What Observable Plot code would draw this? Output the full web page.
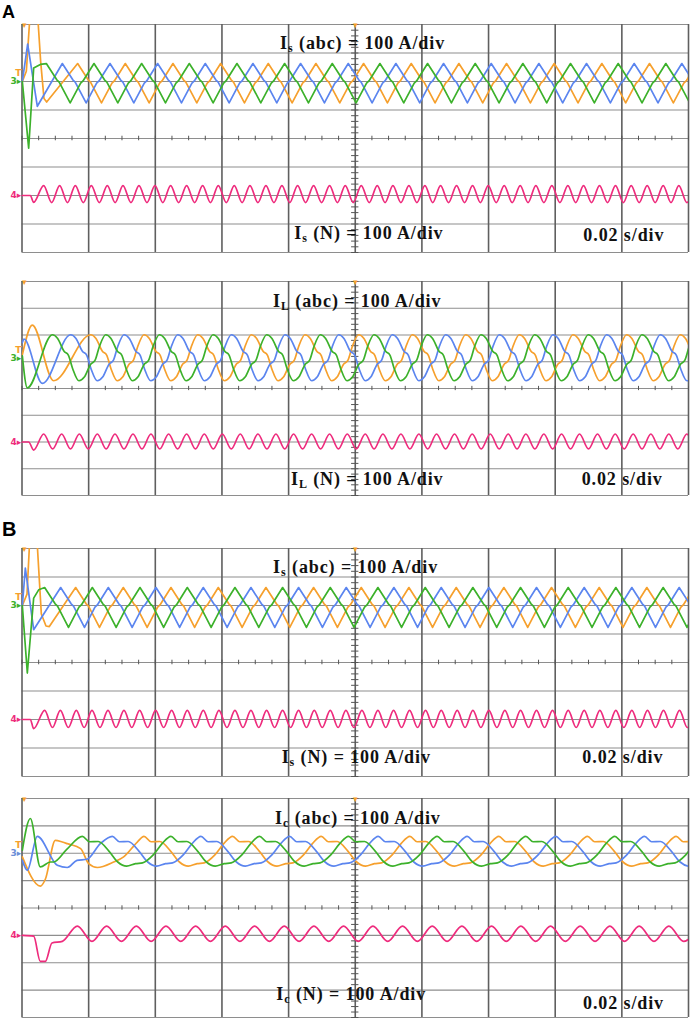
<!DOCTYPE html>
<html><head><meta charset="utf-8">
<script src="https://cdn.jsdelivr.net/npm/d3@7"></script>
<script src="https://cdn.jsdelivr.net/npm/@observablehq/plot@0.6"></script>
<style>
body{margin:0;background:#fff;}
#wrap{position:relative;width:692px;height:1020px;overflow:hidden;background:#fff;}
#wrap svg{position:absolute;left:0;background:transparent;}
.lbl{position:absolute;font-family:"Liberation Sans",Arial,sans-serif;font-weight:bold;line-height:1;color:#000;}
</style></head><body>
<div id="wrap">
<div class="lbl" style="left:2px;top:3px;font-size:18px">A</div>
<div class="lbl" style="left:2px;top:519px;font-size:20px">B</div>
</div>
<script>
// ---------------- DATA (time in ms, 0.02 s/div = 20 ms/div; current in A, 100 A/div) ----------------
const colors = {ch1: "#f6a02d", ch2: "#5b85ef", ch3: "#3cb12b", ch4: "#ee2c7d"};

// Panel A-top : Is (source current)
const isA_ch1_transient = [[0.1,0],[1.3,36],[2.5,250],[4.6,250],[5.6,70],[6.6,-60],[7.4,-72]];
const isA_ch2_transient = [[0.1,0],[1.7,131],[4.6,-87]];
const isA_ch3_transient = [[0.1,0],[2.0,-234],[3.5,47],[5.5,60]];
const isA_ch4_transient = [[0.1,0],[2.5,0],[3.5,-24]];
const isA_ch1_peaks = [16.7,31.0,45.3,59.6,73.9,88.2,102.5,116.8,131.1,145.4,159.7,174.0,188.3,202.6];
const isA_ch2_peaks = [12.1,26.4,40.7,55.0,69.3,83.6,97.9,112.2,126.5,140.8,155.1,169.4,183.7,198.0,212.3];
const isA_ch3_peaks = [7.3,21.6,35.9,50.2,64.5,78.8,93.1,107.4,121.7,136.0,150.3,164.6,178.9,193.2,207.5];
const isA_ch4_peaks = [6.5,11.3,16.0,20.8,25.6,30.3,35.1,39.9,44.6,49.4,54.2,58.9,63.7,68.4,73.2,78.0,82.7,87.5,92.3,97.0,101.8,106.6,111.3,116.1,120.9,125.6,130.4,135.2,139.9,144.7,149.5,154.2,159.0,163.8,168.5,173.3,178.1,182.8,187.6,192.4,197.1,201.9];
const isA_phaseCycle = [[0,63],[0.22,6],[0.27,-2],[0.5,-75],[0.72,-6],[0.77,2]];
const isA_neutralCycle = [[0,35],[0.5,-25]];

// Panel A-bottom : IL (load current)
const il_ch1_transient = [[0.1,11],[3.1,122],[9.5,-86]];
const il_ch2_transient = [[0.1,57],[0.6,70],[6.1,-96]];
const il_ch3_transient = [[0.1,7],[1.6,-113]];
const il_ch4_transient = [[0.1,0],[2.0,0],[3.5,-30]];
const il_ch1_peaks = [20.6,36.6,52.7,68.8,84.9,101.0,117.1,133.1,149.2,165.3,181.4,197.5,213.6];
const il_ch2_peaks = [14.6,30.6,46.7,62.8,78.9,95.0,111.1,127.1,143.2,159.3,175.4,191.5,207.6];
const il_ch3_peaks = [9.1,25.1,41.2,57.3,73.4,89.5,105.6,121.6,137.7,153.8,169.9,186.0,202.1];
const il_ch4_peaks = [6.5,11.9,17.2,22.6,27.9,33.3,38.7,44.0,49.4,54.7,60.1,65.5,70.8,76.2,81.5,86.9,92.3,97.6,103.0,108.3,113.7,119.1,124.4,129.8,135.1,140.5,145.9,151.2,156.6,161.9,167.3,172.7,178.0,183.4,188.7,194.1,199.5,204.8];
const il_phaseCycle = [[0,86],[0.1,72],[0.22,24],[0.3,10],[0.38,-40],[0.5,-86],[0.6,-72],[0.72,-24],[0.8,-10],[0.88,40]];
const il_neutralCycle = [[0,30],[0.5,-26]];

// Panel B-top : Is (source current)
const isB_ch1_transient = [[0.1,0],[1.5,40],[2.4,250],[4.4,250],[5.8,-30],[7.2,-72],[8.2,-74]];
const isB_ch2_transient = [[0.1,0],[1.0,131],[3.5,-85]];
const isB_ch3_transient = [[0.1,0],[1.6,-237],[3.5,26],[5.0,55]];
const isB_ch4_transient = [[0.1,0],[2.5,0],[3.5,-32]];
const isB_ch1_peaks = [16.1,30.4,44.7,58.9,73.2,87.5,101.8,116.1,130.3,144.6,158.9,173.2,187.5,201.7];
const isB_ch2_peaks = [11.6,25.9,40.2,54.4,68.7,83.0,97.3,111.6,125.8,140.1,154.4,168.7,183.0,197.2,211.5];
const isB_ch3_peaks = [6.8,21.1,35.4,49.6,63.9,78.2,92.5,106.8,121.0,135.3,149.6,163.9,178.2,192.4,206.7];
const isB_ch4_peaks = [6.8,11.5,16.3,21.0,25.8,30.6,35.3,40.1,44.9,49.6,54.4,59.1,63.9,68.7,73.4,78.2,83.0,87.7,92.5,97.2,102.0,106.8,111.5,116.3,121.1,125.8,130.6,135.3,140.1,144.9,149.6,154.4,159.2,163.9,168.7,173.4,178.2,183.0,187.7,192.5,197.3,202.0];
const isB_phaseCycle = [[0,63],[0.22,6],[0.27,-2],[0.5,-77],[0.72,-6],[0.77,2]];
const isB_neutralCycle = [[0,32],[0.5,-28]];

// Panel B-bottom : Ic (compensator current)
const ic_ch1_transient = [[0.1,-13],[5.5,-120],[7.0,-95],[10.0,47],[12.1,41],[13.6,35],[17.6,17],[20.0,-38],[22.6,-52],[27.5,-32],[30.5,-13],[34.6,41]];
const ic_ch2_transient = [[0.1,-26],[1.6,-62],[4.6,62],[10.6,-44],[13.6,-52],[16.5,-26],[19.5,-22],[23.5,35]];
const ic_ch3_transient = [[0.1,11],[2.5,127],[5.5,-50],[8.5,-32],[9.5,-32],[13.5,15]];
const ic_ch4_transient = [[0.1,0],[3.5,-3],[5.5,-95],[7.0,-95],[9.0,-28],[12.1,-22]];
const ic_ch1_peaks = [36.6,63.2,89.8,116.4,143.1,169.7,196.3,223.0];
const ic_ch2_peaks = [27.1,53.7,80.3,106.9,133.6,160.2,186.8,213.5];
const ic_ch3_peaks = [18.1,44.7,71.3,98.0,124.6,151.2,177.9,204.5];
const ic_ch4_peaks = [16.6,25.4,34.3,43.2,52.1,61.0,69.8,78.7,87.6,96.5,105.3,114.2,123.1,132.0,140.9,149.7,158.6,167.5,176.4,185.2,194.1,203.0];
const ic_phaseCycle = [[0,62],[0.08,42],[0.18,43],[0.3,8],[0.4,-32],[0.5,-47],[0.6,-38],[0.68,-35],[0.8,-6],[0.9,35]];
const ic_neutralCycle = [[0,34],[0.5,-22]];

// Texts
const labelsIsA = [["I","s"," (abc) = 100 A/div"],["I","s"," (N) = 100 A/div"],["","","0.02 s/div"]];
const labelsIL = [["I","L"," (abc) = 100 A/div"],["I","L"," (N) = 100 A/div"],["","","0.02 s/div"]];
const labelsIsB = [["I","s"," (abc) = 100 A/div"],["I","s"," (N) = 100 A/div"],["","","0.02 s/div"]];
const labelsIc = [["I","c"," (abc) = 100 A/div"],["I","c"," (N) = 100 A/div"],["","","0.02 s/div"]];

// ---------------- BUILD ----------------
function trace(transient, peaks, cycle, offset) {
  const pts = transient.map(([t, v]) => ({t, v: v + offset}));
  for (let i = 0; i < peaks.length - 1; i++) {
    const t0 = peaks[i], T = peaks[i + 1] - t0;
    for (const [f, v] of cycle) pts.push({t: t0 + f * T, v: v + offset});
  }
  pts.push({t: peaks[peaks.length - 1], v: cycle[0][1] + offset});
  return pts;
}

const panels = [
  {top: 24, bottom: 252, off3: 200, off4: -200, phaseCurve: "linear",
   ch: [[isA_ch1_transient, isA_ch1_peaks], [isA_ch2_transient, isA_ch2_peaks], [isA_ch3_transient, isA_ch3_peaks], [isA_ch4_transient, isA_ch4_peaks]],
   phaseCycle: isA_phaseCycle, neutralCycle: isA_neutralCycle, labels: labelsIsA,
   pos: [[102.2, 314], [104.1, -351], [180.6, -360]], mark3: "#3cb12b"},
  {top: 281, bottom: 495, off3: 115, off4: -200, phaseCurve: "monotone-x",
   ch: [[il_ch1_transient, il_ch1_peaks], [il_ch2_transient, il_ch2_peaks], [il_ch3_transient, il_ch3_peaks], [il_ch4_transient, il_ch4_peaks]],
   phaseCycle: il_phaseCycle, neutralCycle: il_neutralCycle, labels: labelsIL,
   pos: [[100.6, 304], [103.6, -360], [180.1, -360]], mark3: "#3cb12b"},
  {top: 548, bottom: 776, off3: 200, off4: -200, phaseCurve: "linear",
   ch: [[isB_ch1_transient, isB_ch1_peaks], [isB_ch2_transient, isB_ch2_peaks], [isB_ch3_transient, isB_ch3_peaks], [isB_ch4_transient, isB_ch4_peaks]],
   phaseCycle: isB_phaseCycle, neutralCycle: isB_neutralCycle, labels: labelsIsB,
   pos: [[100.1, 313], [100.3, -351], [180.3, -351]], mark3: "#3cb12b"},
  {top: 798, bottom: 1017, off3: 200, off4: -100, phaseCurve: "monotone-x",
   ch: [[ic_ch1_transient, ic_ch1_peaks], [ic_ch2_transient, ic_ch2_peaks], [ic_ch3_transient, ic_ch3_peaks], [ic_ch4_transient, ic_ch4_peaks]],
   phaseCycle: ic_phaseCycle, neutralCycle: ic_neutralCycle, labels: labelsIc,
   pos: [[100.8, 308], [98.8, -337], [180.5, -370]], mark3: "#6b8fd8"}
];

const wrap = document.getElementById("wrap");
const chColors = [colors.ch1, colors.ch2, colors.ch3, colors.ch4];

for (const p of panels) {
  const H = p.bottom - p.top + 2;
  const marks = [
    Plot.ruleY(d3.range(-400, 401, 100), {stroke: "#8e8e8e", strokeWidth: 1.2}),
    Plot.ruleX(d3.range(0, 201, 20), {stroke: "#5f5f5f", strokeWidth: 1.6}),
    Plot.ruleX(d3.range(0, 201, 5), {y1: -8, y2: 8, stroke: "#555", strokeWidth: 1}),
    Plot.ruleY(d3.range(-400, 401, 20), {x1: 98.9, x2: 101.1, stroke: "#555", strokeWidth: 1})
  ];
  p.ch.forEach(([tr, pk], i) => {
    const neutral = i === 3;
    const data = trace(tr, pk, neutral ? p.neutralCycle : p.phaseCycle, neutral ? p.off4 : p.off3);
    marks.push(Plot.line(data, {x: "t", y: "v", stroke: chColors[i], strokeWidth: 1.7,
      curve: neutral ? "monotone-x" : p.phaseCurve, clip: true}));
  });
  const labelRows = p.labels.map((parts, i) => ({t: p.pos[i][0], v: p.pos[i][1], text: parts.join(""), parts}));
  marks.push(Plot.text(labelRows, {x: "t", y: "v", text: "text", textAnchor: "middle", lineAnchor: "bottom",
    fontFamily: "Liberation Serif", fontWeight: "bold", fontSize: 18, fill: "#111"}));
  // channel markers
  const markerRows = [
    {text: "T", v: p.off3 + 30, color: colors.ch1},
    {text: "3▸", v: p.off3, color: p.mark3},
    {text: "4▸", v: p.off4, color: colors.ch4}
  ];
  marks.push(Plot.text(markerRows, {x: () => -0.2, y: "v", text: "text", fill: "color", textAnchor: "end",
    fontFamily: "DejaVu Sans", fontSize: 9, fontWeight: "bold"}));
  marks.push(Plot.text([0.8, 100], {x: d => d, y: () => 400, text: () => "▾", fill: colors.ch1, fontSize: 9, lineAnchor: "top", dy: -3}));

  const svg = Plot.plot({
    width: 692, height: H, marginLeft: 21.5, marginRight: 4, marginTop: 1, marginBottom: 1,
    x: {domain: [0, 200], axis: null}, y: {domain: [-400, 400], axis: null},
    style: {background: "transparent", overflow: "visible"},
    marks
  });
  svg.style.top = (p.top - 1) + "px";
  // subscripts
  const map = new Map(labelRows.map(d => [d.text, d.parts]));
  svg.querySelectorAll("text").forEach(el => {
    const parts = map.get(el.textContent);
    if (!parts) return;
    el.style.letterSpacing = "0.9px";
    if (!parts[1]) return;
    el.textContent = "";
    const ns = "http://www.w3.org/2000/svg";
    const a = document.createElementNS(ns, "tspan"); a.textContent = parts[0]; el.appendChild(a);
    const b = document.createElementNS(ns, "tspan"); b.textContent = parts[1];
    b.setAttribute("dy", "3"); b.setAttribute("font-size", "12"); el.appendChild(b);
    const c = document.createElementNS(ns, "tspan"); c.textContent = parts[2];
    c.setAttribute("dy", "-3"); el.appendChild(c);
  });
  wrap.appendChild(svg);
}
</script>
</body></html>
